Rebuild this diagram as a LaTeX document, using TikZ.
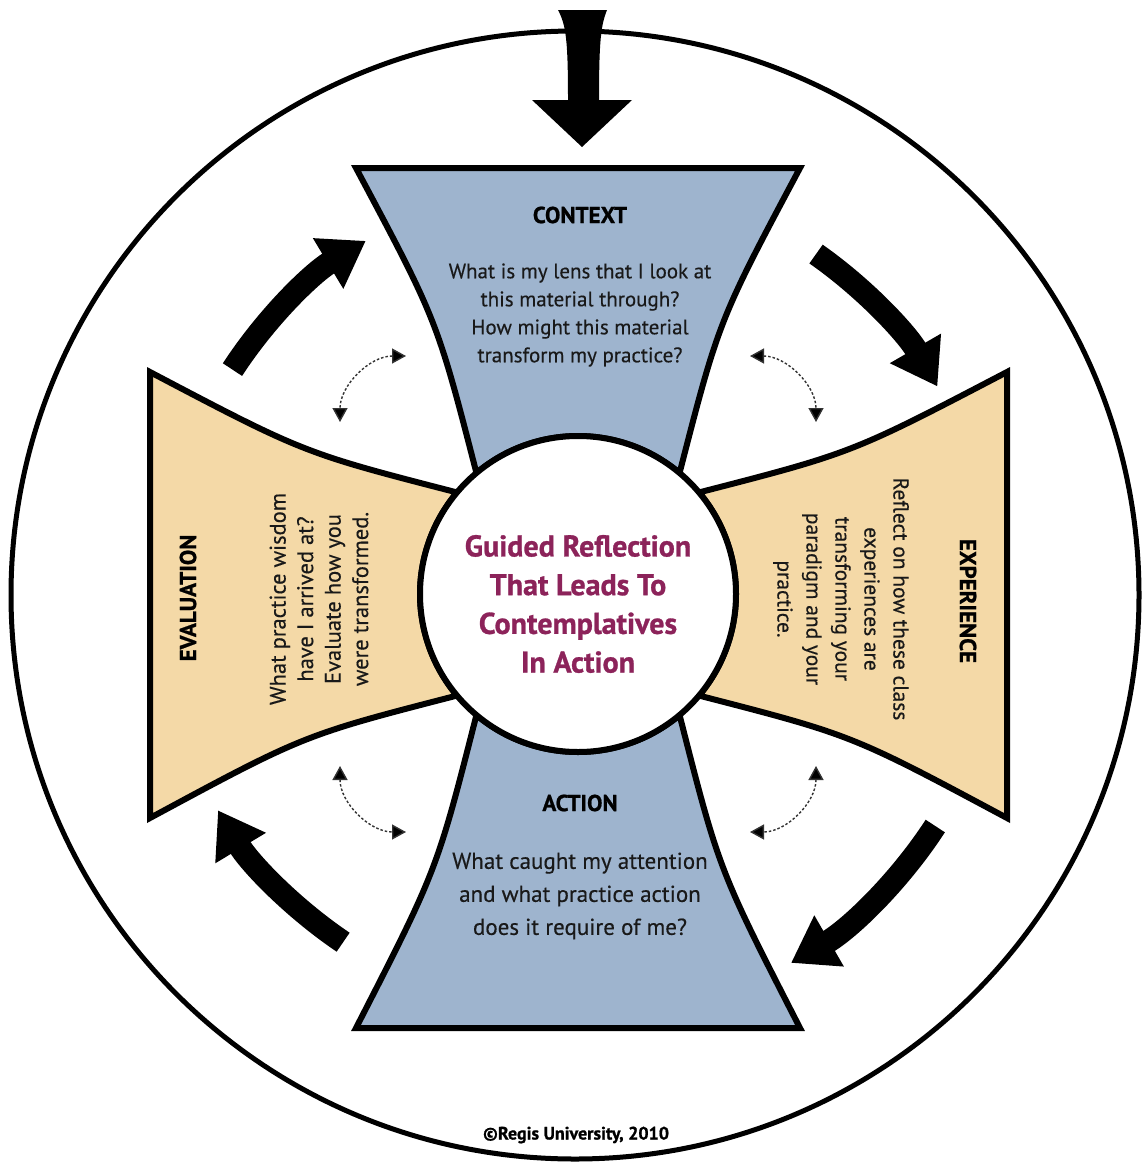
\documentclass[tikz,border=0pt]{standalone}
\usepackage{fontspec}
\setmainfont{PT Sans}
\newfontfamily\bodyfont[FakeBold=0.35]{PT Sans}
\newfontfamily\heavyfont[FakeBold=0.9]{PT Sans Bold}
\usetikzlibrary{arrows.meta,calc}
\definecolor{armblue}{RGB}{158,180,206}
\definecolor{armtan}{RGB}{244,217,167}
\definecolor{corepurple}{RGB}{140,35,90}
\tikzset{
  armshape/.style={draw=black, line width=6pt, line join=miter, miter limit=2},
  bigarrow/.style={line width=23pt, -{Triangle[width=56pt,length=44pt]}},
  swing/.style={line width=1.4pt, dash pattern=on 2.5pt off 2pt, draw=black!80,
    {Triangle[width=15pt,length=14pt,fill=black]}-{Triangle[width=15pt,length=14pt,fill=black]}},
  headtext/.style={inner sep=0pt, font=\heavyfont\fontsize{23}{28}\selectfont},
  bodytext/.style={inner sep=0pt, align=center, text=black!90},
  coretext/.style={inner sep=0pt, align=center, text=corepurple, font=\heavyfont\fontsize{30}{38.7}\selectfont}
}
\begin{document}
\begin{tikzpicture}[x=1pt,y=1pt]
\fill[white] (0,0) rectangle (1145,-1167);
\coordinate (C) at (578,-594);
\coordinate (O) at (575,-595);
% outer circle
\draw[line width=5pt] (O) circle[radius=564];
% top incoming arrow
\fill[black] (558,-10) -- (607,-10) .. controls (601,-25) and (599,-40) .. (599,-100)
  -- (632,-100) -- (582,-147) -- (532,-100) -- (568,-100)
  .. controls (568,-40) and (566,-25) .. cycle;
% arms
\path[armshape, fill=armblue] (356,-168) -- (800,-168) .. controls (719,-320) .. ($(C)+(50:158)$)
  arc[start angle=50,end angle=130,radius=158] .. controls (437,-320) .. cycle;
\path[armshape, fill=armblue] (356,-1028) -- (800,-1028) .. controls (719,-870) .. ($(C)+(-50:158)$)
  arc[start angle=-50,end angle=-130,radius=158] .. controls (437,-870) .. cycle;
\path[armshape, fill=armtan] (150,-372) .. controls (304,-453) .. ($(C)+(140:158)$)
  arc[start angle=140,end angle=220,radius=158] .. controls (304,-735) .. (150,-818) -- cycle;
\path[armshape, fill=armtan] (1007,-372) .. controls (852,-453) .. ($(C)+(40:158)$)
  arc[start angle=40,end angle=-40,radius=158] .. controls (852,-735) .. (1007,-818) -- cycle;
% centre circle
\draw[line width=6pt, fill=white] (C) circle[radius=158];
% texts
\node[headtext] (ctxhead) at (580,-215) {CONTEXT};
\node[bodytext, font=\bodyfont\fontsize{21}{28}\selectfont] (ctxbody) at (580,-315)
  {What is my lens that I look at\\this material through?\\How might this material\\transform my practice?};
\node[headtext] (acthead) at (580,-803) {ACTION};
\node[bodytext, font=\bodyfont\fontsize{23}{33}\selectfont] (actbody) at (580,-896)
  {What caught my attention\\and what practice action\\does it require of me?};
\node[headtext, rotate=90] (evalhead) at (188,-598) {EVALUATION};
\node[bodytext, rotate=90, font=\bodyfont\fontsize{22.5}{27.5}\selectfont] (evalbody) at (319,-599)
  {What practice wisdom\\have I arrived at?\\Evaluate how you\\were transformed.};
\node[headtext, rotate=-90] (exphead) at (968,-601) {EXPERIENCE};
\node[bodytext, rotate=-90, font=\bodyfont\fontsize{21.5}{29}\selectfont] (expbody) at (841,-599)
  {Reflect on how these class\\experiences are\\transforming your\\paradigm and your\\practice.};
\node[coretext] (core) at (578,-604) {Guided Reflection\\That Leads To\\Contemplatives\\In Action};
\node[inner sep=0pt, font=\heavyfont\fontsize{18}{20}\selectfont] (copyright) at (576,-1135) {©Regis University, 2010};
% cycle arrows
\draw[bigarrow] ($(C)+(147:412)$) arc[start angle=147,end angle=121,radius=412];
\draw[bigarrow] ($(C)+(55:415)$) arc[start angle=55,end angle=30,radius=415];
\draw[bigarrow] ($(C)+(-33:426)$) arc[start angle=-33,end angle=-60,radius=426];
\draw[bigarrow] ($(C)+(-124:420)$) arc[start angle=-124,end angle=-149,radius=420];
% small two-way arrows
\draw[swing] ($(C)+(-172,172)+(90:66)$) arc[start angle=90,end angle=180,radius=66];
\draw[swing] ($(C)+(172,172)+(90:66)$) arc[start angle=90,end angle=0,radius=66];
\draw[swing] ($(C)+(-172,-172)+(180:66)$) arc[start angle=180,end angle=270,radius=66];
\draw[swing] ($(C)+(172,-172)+(0:66)$) arc[start angle=0,end angle=-90,radius=66];
\end{tikzpicture}
\end{document}
